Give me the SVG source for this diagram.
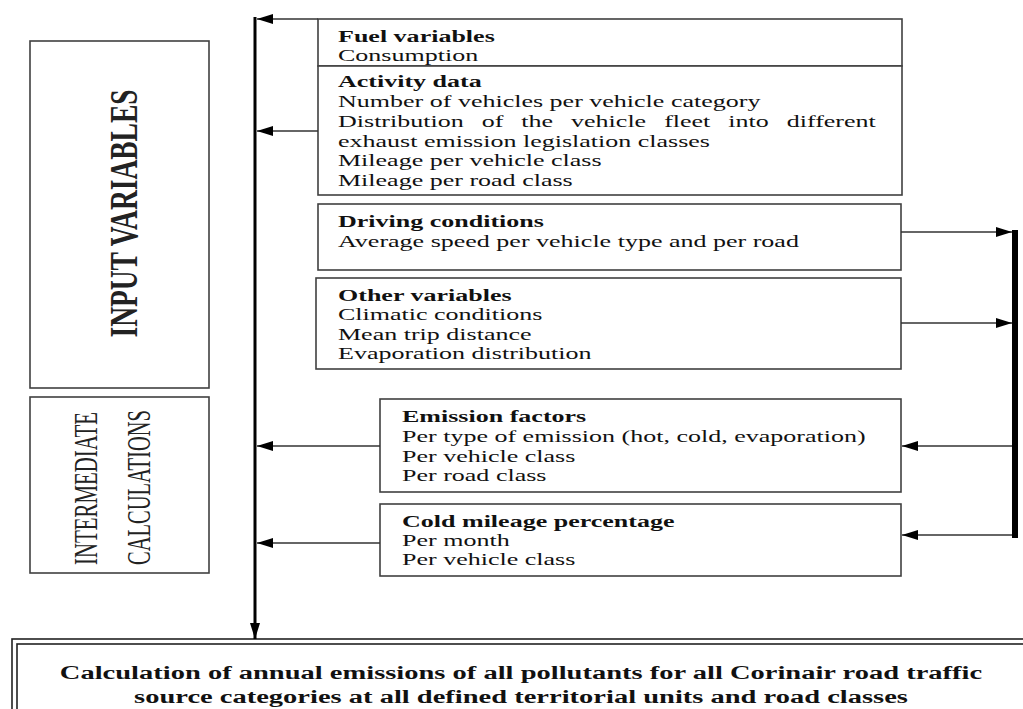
<svg xmlns="http://www.w3.org/2000/svg" width="1023" height="709" viewBox="0 0 1023 709">
<defs>
<marker id="ah" viewBox="0 0 16 10" refX="16" refY="5" markerWidth="16" markerHeight="10" markerUnits="userSpaceOnUse" orient="auto"><path d="M0,0 L16,5 L0,10 Z" fill="#000"/></marker>
</defs>
<style>
.box{fill:#fff;stroke:#404040;stroke-width:1.6}
.t{font-family:"Liberation Serif","Times New Roman",serif;font-size:17px;fill:#111}
.b{font-weight:bold}
.conn{stroke:#333;stroke-width:1.6;fill:none}
.side{font-family:"Liberation Serif","Times New Roman",serif;fill:#222}
</style>
<rect width="1023" height="709" fill="#fff"/>

<g id="input-variables">
<rect class="box" x="30" y="41" width="179" height="347"/>
<text class="side" font-size="27" font-weight="bold" text-anchor="middle" textLength="248" lengthAdjust="spacingAndGlyphs" transform="translate(137,213.5) scale(1.52,1) rotate(-90)">INPUT VARIABLES</text>
</g>

<g id="intermediate-calculations">
<rect class="box" x="30" y="397" width="179" height="176"/>
<text class="side" font-size="22" fill="#3a3a3a" textLength="153" lengthAdjust="spacingAndGlyphs" transform="translate(97,565) scale(1.52,1) rotate(-90)">INTERMEDIATE</text>
<text class="side" font-size="22" fill="#3a3a3a" textLength="155" lengthAdjust="spacingAndGlyphs" transform="translate(150,565) scale(1.52,1) rotate(-90)">CALCULATIONS</text>
</g>

<g id="fuel-variables">
<rect class="box" x="318" y="19" width="584" height="47"/>
<g transform="translate(338,0) scale(1.53,1)">
<text class="t b" y="42">Fuel variables</text>
<text class="t" y="61">Consumption</text>
</g>
</g>

<g id="activity-data">
<rect class="box" x="318" y="66" width="584" height="129"/>
<g transform="translate(338,0) scale(1.53,1)">
<text class="t b" y="87">Activity data</text>
<text class="t" y="107">Number of vehicles per vehicle category</text>
<text class="t" y="127" word-spacing="7.5">Distribution of the vehicle fleet into different</text>
<text class="t" y="147">exhaust emission legislation classes</text>
<text class="t" y="166">Mileage per vehicle class</text>
<text class="t" y="186">Mileage per road class</text>
</g>
</g>

<g id="driving-conditions">
<rect class="box" x="318" y="204" width="583" height="66"/>
<g transform="translate(338,0) scale(1.53,1)">
<text class="t b" y="227">Driving conditions</text>
<text class="t" y="247">Average speed per vehicle type and per road</text>
</g>
</g>

<g id="other-variables">
<rect class="box" x="316" y="278" width="585" height="91"/>
<g transform="translate(338,0) scale(1.53,1)">
<text class="t b" y="301">Other variables</text>
<text class="t" y="320">Climatic conditions</text>
<text class="t" y="340">Mean trip distance</text>
<text class="t" y="359">Evaporation distribution</text>
</g>
</g>

<g id="emission-factors">
<rect class="box" x="380" y="399" width="521" height="93"/>
<g transform="translate(402,0) scale(1.53,1)">
<text class="t b" y="422">Emission factors</text>
<text class="t" y="442">Per type of emission (hot, cold, evaporation)</text>
<text class="t" y="462">Per vehicle class</text>
<text class="t" y="481">Per road class</text>
</g>
</g>

<g id="cold-mileage">
<rect class="box" x="380" y="504" width="521" height="72"/>
<g transform="translate(402,0) scale(1.53,1)">
<text class="t b" y="527">Cold mileage percentage</text>
<text class="t" y="546">Per month</text>
<text class="t" y="565">Per vehicle class</text>
</g>
</g>

<g id="annual-emissions">
<rect x="12" y="639" width="1040" height="120" fill="#fff" stroke="#222" stroke-width="1.6"/>
<rect x="17" y="644" width="1030" height="110" fill="none" stroke="#222" stroke-width="1.6"/>
<g transform="translate(521,0) scale(1.5,1)">
<text class="t b" text-anchor="middle" y="679" style="font-size:19px">Calculation of annual emissions of all pollutants for all Corinair road traffic</text>
<text class="t b" text-anchor="middle" y="703" style="font-size:19px">source categories at all defined territorial units and road classes</text>
</g>
</g>

<g id="connectors">
<line x1="255" y1="17" x2="255" y2="639" stroke="#000" stroke-width="3" marker-end="url(#ah)"/>
<path class="conn" d="M318,19 H257" marker-end="url(#ah)"/>
<path class="conn" d="M318,131 H257" marker-end="url(#ah)"/>
<path class="conn" d="M380,446 H257" marker-end="url(#ah)"/>
<path class="conn" d="M380,543 H257" marker-end="url(#ah)"/>
<rect x="1012" y="230" width="6" height="308" fill="#000"/>
<path class="conn" d="M901,232 H1012" marker-end="url(#ah)"/>
<path class="conn" d="M901,323 H1012" marker-end="url(#ah)"/>
<path class="conn" d="M1012,446 H902" marker-end="url(#ah)"/>
<path class="conn" d="M1012,535 H902" marker-end="url(#ah)"/>
</g>
</svg>
